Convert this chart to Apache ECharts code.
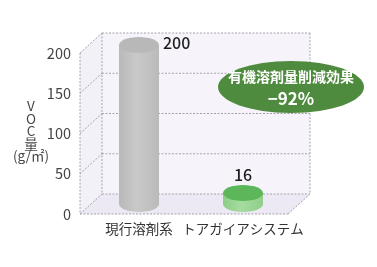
<!DOCTYPE html>
<html><head><meta charset="utf-8">
<script src="https://cdn.jsdelivr.net/npm/echarts@6/dist/echarts.min.js"></script>
<style>html,body{margin:0;padding:0;background:#fff}#c{width:377px;height:267px}</style>
</head><body><div id="c"></div>
<script>
const categories = ['現行溶剤系', 'トアガイアシステム'];
const vocValues = [200, 16];
const yTicks = [0, 50, 100, 150, 200];
const yAxisNameLines = ['V', 'O', 'C', '量', '(g/㎡)'];
const calloutLines = ['有機溶剤量削減効果', '−92%'];

const FONT = '"Noto Sans CJK JP", "Noto Sans", sans-serif';
const DX = 22, DY = -20;          // depth offset of the 3D box
const CYL_SHIFT = 7;              // cylinder centre offset from category centre
const RX = 20, RY = 8;
const palette = [
  {side: ['#b9b9b9', '#c9c9c9', '#bababa'], top: '#b8b8b8'},
  {side: ['#8ccd87', '#a6dca0', '#8fce89'], top: '#5db65a'}
];
const edge = {stroke: '#a4a3ad', lineWidth: 1, lineDash: [2, 1.5]};

function line(x1, y1, x2, y2) {
  return {type: 'line', shape: {x1, y1, x2, y2}, style: Object.assign({}, edge)};
}

function frameItem(params, api) {
  const cs = params.coordSys;
  const x0 = cs.x, x1 = cs.x + cs.width;
  const y = api.coord([0, api.value(1)])[1];
  const children = [];
  if (params.dataIndex === 0) {
    const yTop = api.coord([0, yTicks[yTicks.length - 1]])[1];
    children.push({type: 'polygon', shape: {points: [[x0 + DX, yTop + DY], [x1 + DX, yTop + DY], [x1 + DX, y + DY], [x0 + DX, y + DY]]}, style: {fill: '#f6f4fa'}});
    children.push({type: 'polygon', shape: {points: [[x0, yTop], [x0 + DX, yTop + DY], [x0 + DX, y + DY], [x0, y]]}, style: {fill: '#f3f1f8'}});
    children.push({type: 'polygon', shape: {points: [[x0, y], [x0 + DX, y + DY], [x1 + DX, y + DY], [x1, y]]}, style: {fill: '#ece8f4'}});
    children.push(line(x0, yTop, x0, y));
    children.push(line(x0 + DX, yTop + DY, x0 + DX, y + DY));
    children.push(line(x1 + DX, yTop + DY, x1 + DX, y + DY));
    children.push(line(x1, y, x1 + DX, y + DY));
    children.push(line(x0, y, x1, y));
  }
  children.push(line(x0 + DX, y + DY, x1 + DX, y + DY));
  children.push(line(x0, y, x0 + DX, y + DY));
  return {type: 'group', children};
}

function cylinderItem(params, api) {
  const idx = api.value(0), v = api.value(1);
  const c = api.coord([idx, v]);
  const b = api.coord([idx, 0]);
  const cx = c[0] + CYL_SHIFT;
  const top = c[1] + DY / 2 + 2, bottom = b[1] + DY / 2;
  const p = palette[idx % palette.length];
  const grad = new echarts.graphic.LinearGradient(0, 0, 1, 0, [
    {offset: 0, color: p.side[0]}, {offset: 0.45, color: p.side[1]}, {offset: 1, color: p.side[2]}
  ]);
  const isMax = v >= Math.max.apply(null, vocValues);
  const label = isMax
    ? {type: 'text', style: {x: cx + RX + 4, y: top - 2, text: String(v), fill: '#1e1e1e', font: '500 16px ' + FONT, textAlign: 'left', textVerticalAlign: 'middle'}}
    : {type: 'text', style: {x: cx, y: top - RY - 2, text: String(v), fill: '#1e1e1e', font: '500 16px ' + FONT, textAlign: 'center', textVerticalAlign: 'bottom'}};
  return {type: 'group', children: [
    {type: 'ellipse', shape: {cx, cy: bottom, rx: RX, ry: RY}, style: {fill: grad}},
    {type: 'rect', shape: {x: cx - RX, y: top, width: 2 * RX, height: bottom - top}, style: {fill: grad}},
    {type: 'ellipse', shape: {cx, cy: top, rx: RX, ry: RY}, style: {fill: p.top}},
    label
  ]};
}

const chart = echarts.init(document.getElementById('c'), null, {renderer: 'canvas'});
chart.setOption({
  animation: false,
  backgroundColor: '#ffffff',
  grid: {left: 80, right: 89, top: 53, bottom: 53},
  xAxis: {
    type: 'category', data: categories,
    axisLine: {show: false}, axisTick: {show: false}, splitLine: {show: false},
    axisLabel: {color: '#333', fontSize: 13.5, fontFamily: FONT, margin: 8, padding: [0, 0, 0, 14], interval: 0}
  },
  yAxis: {
    type: 'value', min: 0, max: 200, interval: 50,
    axisLine: {show: false}, axisTick: {show: false}, splitLine: {show: false},
    axisLabel: {color: '#444', fontSize: 14.5, fontFamily: FONT, margin: 9}
  },
  series: [
    {type: 'custom', z: 1, renderItem: frameItem, data: yTicks.map(t => [0, t]), silent: true},
    {type: 'custom', z: 2, renderItem: cylinderItem, data: vocValues.map((v, i) => [i, v])}
  ],
  graphic: [
    {type: 'text', z: 100, style: {x: 31, y: 131, text: yAxisNameLines.join('\n'), fill: '#444', font: '13.5px ' + FONT, lineHeight: 12.5, textAlign: 'center', textVerticalAlign: 'middle'}},
    {type: 'ellipse', z: 100, shape: {cx: 291, cy: 87, rx: 73, ry: 26}, style: {fill: '#4f8b3e'}},
    {type: 'text', z: 101, style: {x: 291, y: 77, text: calloutLines[0], fill: '#ffffff', font: 'bold 14px ' + FONT, textAlign: 'center', textVerticalAlign: 'middle'}},
    {type: 'text', z: 101, style: {x: 291, y: 99, text: calloutLines[1], fill: '#ffffff', font: 'bold 17px ' + FONT, textAlign: 'center', textVerticalAlign: 'middle'}}
  ]
});
</script></body></html>
